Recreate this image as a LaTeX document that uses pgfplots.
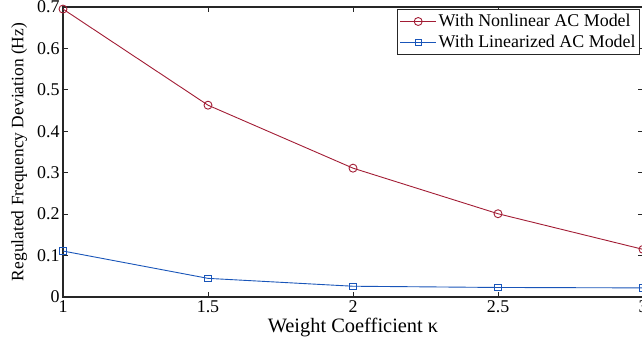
\documentclass[border=0pt]{standalone}
\usepackage{pgfplots}
\pgfplotsset{compat=1.18}
\usepackage{fontspec}
\setmainfont{Liberation Serif}
\definecolor{cred}{RGB}{162,28,52}
\definecolor{cblue}{RGB}{25,85,185}
\begin{document}
\begin{tikzpicture}[x=1bp,y=1bp]
\useasboundingbox (0,0) rectangle (642,339);
\clip (0,0) rectangle (642,339);
\begin{axis}[
  at={(63bp,42bp)}, anchor=south west,
  scale only axis, width=580bp, height=290bp,
  xmin=1, xmax=3, ymin=0, ymax=0.7,
  xtick={1,1.5,2,2.5,3},
  ytick={0,0.1,0.2,0.3,0.4,0.5,0.6,0.7},
  yticklabels={0,0.1,0.2,0.3,0.4,0.5,0.6,0.7},
  font=\fontsize{18}{20}\selectfont,
  /pgf/number format/assume math mode=true,
  tick align=inside,
  major tick length=5bp,
  tick style={black!85, line width=0.8pt},
  axis line style={black!85, line width=1.2pt},
  xlabel={Weight Coefficient κ},
  ylabel={Regulated Frequency Deviation (Hz)},
  xlabel style={yshift=1bp, font=\fontsize{20.5}{22}\selectfont},
  ylabel style={yshift=3bp, font=\fontsize{17.5}{19}\selectfont},
  xticklabel style={yshift=0bp},
  legend cell align=left,
  legend style={at={(rel axis cs:0.995,0.993)}, anchor=north east,
    draw=black!85, line width=1pt, inner xsep=2bp, inner ysep=3bp,
    row sep=3bp, font=\fontsize{18}{20}\selectfont},
  legend image code/.code={%
    \draw[mark repeat=2,mark phase=2] plot coordinates {(0bp,0bp)(18bp,0bp)(36bp,0bp)};},
]
\addplot[cred, line width=0.9pt, mark=o, mark size=4bp, mark options={line width=0.9pt}]
  coordinates {(1,0.695) (1.5,0.463) (2,0.311) (2.5,0.201) (3,0.115)};
\addlegendentry{With Nonlinear AC Model}
\addplot[cblue, line width=0.9pt, mark=square, mark size=3.2bp, mark options={line width=0.9pt}]
  coordinates {(1,0.111) (1.5,0.045) (2,0.026) (2.5,0.023) (3,0.022)};
\addlegendentry{With Linearized AC Model}
\end{axis}
\end{tikzpicture}
\end{document}
